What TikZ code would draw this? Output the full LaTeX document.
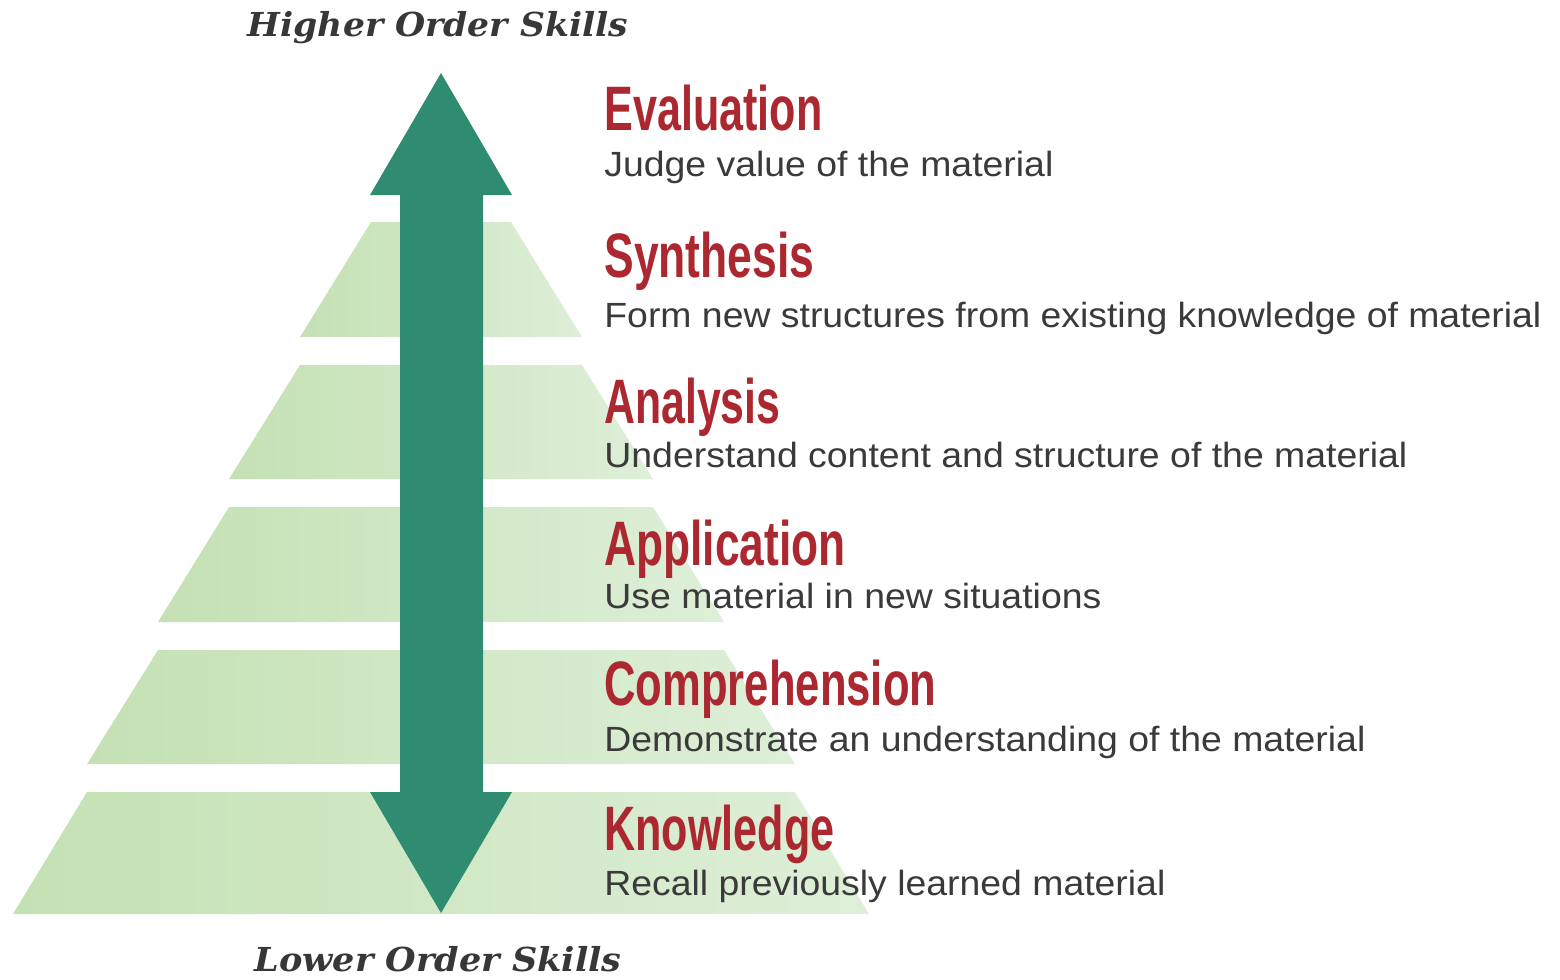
\documentclass[tikz,border=0pt]{standalone}
\usepackage{fontspec}
\usepackage{graphicx}
\setmainfont{Liberation Sans}
\newfontfamily\skillfont{DejaVu Serif}
\definecolor{titlered}{RGB}{172,40,48}
\definecolor{subgray}{RGB}{58,58,58}
\definecolor{skillgray}{RGB}{55,55,55}
\definecolor{arrowgreen}{RGB}{47,140,112}
\definecolor{layerL}{RGB}{196,225,180}
\definecolor{layerR}{RGB}{222,239,216}
\newcommand\fitto[2]{\resizebox{#1}{\height}{#2}}
\tikzset{
  titletext/.style={anchor=base west, inner sep=0pt, text=titlered, font=\fontsize{31.4}{34}\selectfont\bfseries},
  subtext/.style={anchor=base west, inner sep=0pt, text=subgray, font=\fontsize{17.5}{19}\selectfont},
  skilltext/.style={anchor=base, inner sep=0pt, text=skillgray, font=\skillfont\fontsize{16.5}{18}\selectfont\bfseries\itshape},
  layer/.style={left color=layerL, right color=layerR},
  bigarrow/.style={fill=arrowgreen, draw=none}
}
\begin{document}
\begin{tikzpicture}[x=0.5pt, y=-0.5pt]
\useasboundingbox (0,0) rectangle (1560,980);
% pyramid layers
\foreach \ya/\yb/\ha/\hb in {222/337/70/141, 365/479/141/212, 507/622/212/283, 650/764/283/354, 792/914/354/428}{
  \shade[layer] (441-\ha,\ya) -- (441+\ha,\ya) -- (441+\hb,\yb) -- (441-\hb,\yb) -- cycle;
}
% double arrow
\fill[bigarrow] (441,73) -- (512,195) -- (483,195) -- (483,792) -- (512,792) -- (441,913)
  -- (370,792) -- (400,792) -- (400,195) -- (370,195) -- cycle;
% skills labels
\node[skilltext] (higher) at (438,36) {\fitto{190pt}{Higher Order Skills}};
\node[skilltext] (lower) at (438,971) {\fitto{183.5pt}{Lower Order Skills}};
% level titles and descriptions
\node[titletext] (eval) at (604,130) {\fitto{109pt}{Evaluation}};
\node[subtext] (evald) at (604,176) {\fitto{224.5pt}{Judge value of the material}};
\node[titletext] (synth) at (604,277) {\fitto{105pt}{Synthesis}};
\node[subtext] (synthd) at (604,327) {\fitto{468.5pt}{Form new structures from existing knowledge of material}};
\node[titletext] (anal) at (604,423) {\fitto{88pt}{Analysis}};
\node[subtext] (anald) at (604,467) {\fitto{401.5pt}{Understand content and structure of the material}};
\node[titletext] (appl) at (604,565) {\fitto{120.5pt}{Application}};
\node[subtext] (appld) at (604,608) {\fitto{248.5pt}{Use material in new situations}};
\node[titletext] (comp) at (604,705) {\fitto{166pt}{Comprehension}};
\node[subtext] (compd) at (604,751) {\fitto{380.5pt}{Demonstrate an understanding of the material}};
\node[titletext] (know) at (604,850) {\fitto{115pt}{Knowledge}};
\node[subtext] (knowd) at (604,895) {\fitto{280.5pt}{Recall previously learned material}};
\end{tikzpicture}
\end{document}
